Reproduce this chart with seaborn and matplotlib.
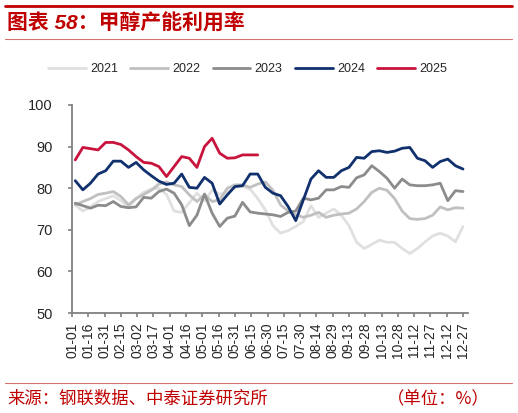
import matplotlib
matplotlib.use("Agg")
import pandas as pd
import matplotlib.pyplot as plt
import seaborn as sns
from matplotlib.lines import Line2D

# ------------------------------------------------------------
# Data: weekly methanol capacity utilisation (%)
# ------------------------------------------------------------

YEARS = ["2021", "2022", "2023", "2024", "2025"]
COLORS = ["#e0e0e0", "#c0c0c0", "#8c8c8c", "#10306e", "#c8143c"]

util_2021 = [76.0, 74.5, 75.5, 76.8, 77.5, 78.2, 77.0, 75.5, 77.5, 79.0,
             79.8, 80.0, 78.5, 74.5, 74.2, 76.5, 78.8, 77.0, 79.5, 78.5,
             79.0, 80.2, 80.5, 79.8, 77.5, 74.8, 71.0, 69.2, 69.8, 70.8,
             72.0, 75.8, 73.0, 74.0, 75.0, 73.5, 71.0, 67.0, 65.5, 66.5,
             67.5, 67.0, 67.0, 65.5, 64.3, 65.5, 67.1, 68.5, 69.2, 68.5,
             67.1, 70.8]
util_2022 = [76.0, 76.8, 77.5, 78.5, 78.8, 79.2, 78.0, 76.0, 77.5, 78.5,
             79.5, 81.0, 81.5, 80.8, 80.4, 78.4, 76.8, 78.4, 76.8, 77.2,
             80.0, 80.8, 80.8, 80.2, 81.0, 81.5, 79.5, 76.0, 74.5, 73.6,
             73.0, 73.5, 74.2, 73.0, 73.5, 73.8, 74.0, 75.0, 76.8, 79.0,
             80.0, 79.5, 77.5, 74.5, 72.7, 72.5, 72.7, 73.5, 75.5, 74.8,
             75.3, 75.2]
util_2023 = [76.4, 75.8, 75.2, 75.9, 75.8, 76.8, 75.6, 75.3, 75.5, 77.8,
             77.6, 79.2, 79.8, 78.8, 76.0, 71.0, 73.5, 78.6, 74.0, 70.8,
             72.8, 73.3, 76.6, 74.3, 74.0, 73.8, 73.6, 73.2, 74.2, 74.5,
             77.6, 77.2, 77.6, 79.6, 79.6, 80.4, 80.2, 82.5, 83.2, 85.4,
             84.0, 82.4, 80.0, 82.2, 80.8, 80.6, 80.6, 80.8, 81.2, 77.0,
             79.4, 79.2]
util_2024 = [81.8, 79.6, 81.2, 83.4, 84.2, 86.5, 86.5, 85.0, 86.2, 84.4,
             83.0, 81.7, 80.9, 81.2, 83.4, 80.2, 80.0, 82.6, 81.2, 76.2,
             78.4, 80.4, 80.6, 83.4, 83.4, 80.2, 78.8, 78.2, 75.6, 72.2,
             77.2, 82.2, 84.2, 82.6, 82.6, 84.2, 85.0, 87.4, 87.2, 88.8,
             89.0, 88.6, 88.9, 89.6, 89.8, 87.2, 86.6, 85.0, 86.4, 87.0,
             85.4, 84.6]
util_2025 = [86.8, 89.8, 89.5, 89.2, 91.0, 91.0, 90.5, 89.2, 87.6, 86.2,
             86.0, 85.2, 82.8, 85.2, 87.6, 87.2, 85.0, 90.0, 92.0, 88.4,
             87.2, 87.3, 88.0, 88.0, 88.0]

TICK_LABELS = ["01-01", "01-16", "01-31", "02-15", "03-02", "03-17", "04-01",
               "04-16", "05-01", "05-16", "05-31", "06-15", "06-30", "07-15",
               "07-30", "08-14", "08-29", "09-13", "09-28", "10-13", "10-28",
               "11-12", "11-27", "12-12", "12-27"]

series = dict(zip(YEARS, [util_2021, util_2022, util_2023, util_2024, util_2025]))

# weekly observation dates, mapped onto day-of-year
week_dates = pd.date_range("2021-01-04", periods=52, freq="7D")
frames = []
for year, vals in series.items():
    frames.append(pd.DataFrame({
        "day": week_dates[:len(vals)].dayofyear - 1,
        "value": vals,
        "year": year,
    }))
df = pd.concat(frames, ignore_index=True)

tick_days = pd.to_datetime(["2021-" + t for t in TICK_LABELS]).dayofyear - 1

# ------------------------------------------------------------
# Plot
# ------------------------------------------------------------

sns.set_style("ticks")
plt.rcParams["font.family"] = ["Liberation Sans", "Noto Sans CJK SC", "DejaVu Sans"]

fig = plt.figure(figsize=(5.18, 4.13), dpi=100)
ax = fig.add_axes([0.139, 0.2421, 0.7645, 0.5037])

sns.lineplot(data=df, x="day", y="value", hue="year", hue_order=YEARS,
             palette=dict(zip(YEARS, COLORS)), linewidth=2.0, ax=ax)

ax.set_xlim(0, 364.6)
ax.set_ylim(50, 100)
ax.set_yticks(range(50, 101, 10))
ax.set_xticks(tick_days)
ax.set_xticklabels(TICK_LABELS, rotation=90)
ax.set_xlabel("")
ax.set_ylabel("")

axis_grey = "#808080"
for side in ["top", "right"]:
    ax.spines[side].set_visible(False)
for side in ["left", "bottom"]:
    ax.spines[side].set_color(axis_grey)
    ax.spines[side].set_linewidth(1.3)
ax.tick_params(axis="y", length=3, width=1.2, color=axis_grey, pad=11,
               labelsize=10.5, labelcolor="#262626")
ax.tick_params(axis="x", length=3, width=1.2, color=axis_grey, pad=4,
               labelsize=10, labelcolor="#262626")

sns.move_legend(ax, "center", bbox_to_anchor=(0.478, 0.833),
                bbox_transform=fig.transFigure, ncol=5, frameon=False,
                title=None, fontsize=9, handlelength=3.0, handletextpad=0.35,
                columnspacing=1.0)

# header / footer decoration
red = "#c00000"
fig.add_artist(Line2D([0.0097, 0.988], [0.9855, 0.9855], transform=fig.transFigure,
                      color=red, lw=2.0))
fig.add_artist(Line2D([0.0097, 0.988], [0.9056, 0.9056], transform=fig.transFigure,
                      color="#d77070", lw=0.8))
fig.add_artist(Line2D([0.0097, 0.988], [0.0726, 0.0726], transform=fig.transFigure,
                      color="#d77070", lw=0.8))

fig.text(0.014, 0.944, "图表 58：甲醇产能利用率", color=red, fontsize=15,
         fontweight="bold", fontstyle="italic", va="center", ha="left",
         family=["Liberation Sans", "Noto Sans CJK SC"])
fig.text(0.014, 0.034, "来源：钢联数据、中泰证券研究所", color=red, fontsize=12.5,
         fontweight="light", va="center", ha="left",
         family=["Noto Sans CJK SC", "DejaVu Sans"])
fig.text(0.946, 0.034, "（单位：%）", color=red, fontsize=12.5,
         fontweight="light", va="center", ha="right",
         family=["Noto Sans CJK SC", "DejaVu Sans"])

fig.savefig("out.png", dpi=100)
